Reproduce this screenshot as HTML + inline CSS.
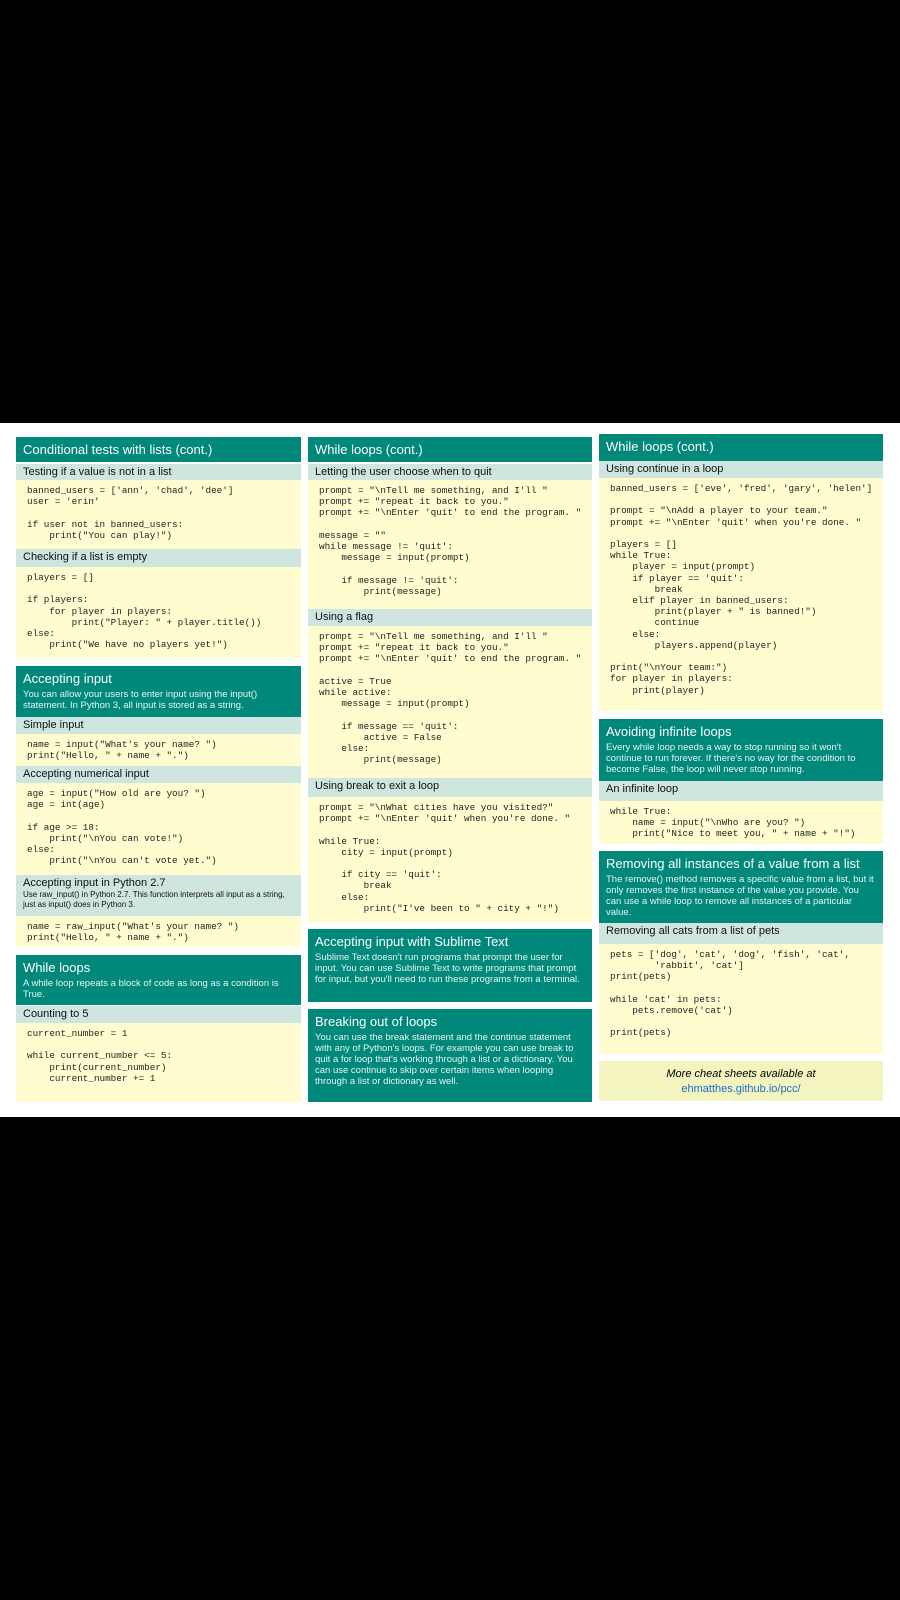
<!DOCTYPE html>
<html><head><meta charset="utf-8"><style>
body{margin:0;width:900px;height:1600px;background:#000;position:relative;overflow:hidden;font-family:"Liberation Sans",sans-serif}
.page{position:absolute;left:0;top:423px;width:900px;height:694px;background:#fff}
.b{position:absolute;box-sizing:border-box}
.t{background:#00897b;color:#fff;font-size:13px;padding:5px 7px 0}
.t p{margin:3px 0 0;font-size:9.5px;line-height:11px;color:#e6f4f1}
.s{background:#cfe5df;color:#111;font-size:11px;padding:2px 7px 0}
.s p{margin:1px 0 0;font-size:8px;line-height:9.5px}
.c{background:#fffdd0}
.c pre{margin:0;padding:5px 0 0 11px;font-family:"Liberation Mono",monospace;font-size:9.3px;line-height:11.2px;color:#222}
.f{background:#f4f4c0;text-align:center;font-size:11px;padding-top:6px;line-height:15px}
</style></head><body>
<div class="page"></div>
<!-- col1 -->
<div class="b t" style="left:16px;top:437px;width:285px;height:25px">Conditional tests with lists (cont.)</div>
<div class="b s" style="left:16px;top:464px;width:285px;height:16px">Testing if a value is not in a list</div>
<div class="b c" style="left:16px;top:480px;width:285px;height:69px"><pre>banned_users = ['ann', 'chad', 'dee']
user = 'erin'

if user not in banned_users:
    print("You can play!")</pre></div>
<div class="b s" style="left:16px;top:549px;width:285px;height:18px">Checking if a list is empty</div>
<div class="b c" style="left:16px;top:567px;width:285px;height:91px"><pre>players = []

if players:
    for player in players:
        print("Player: " + player.title())
else:
    print("We have no players yet!")</pre></div>
<div class="b t" style="left:16px;top:666px;width:285px;height:51px">Accepting input<p>You can allow your users to enter input using the input() statement. In Python 3, all input is stored as a string.</p></div>
<div class="b s" style="left:16px;top:717px;width:285px;height:17px">Simple input</div>
<div class="b c" style="left:16px;top:734px;width:285px;height:32px"><pre>name = input("What's your name? ")
print("Hello, " + name + ".")</pre></div>
<div class="b s" style="left:16px;top:766px;width:285px;height:17px">Accepting numerical input</div>
<div class="b c" style="left:16px;top:783px;width:285px;height:92px"><pre>age = input("How old are you? ")
age = int(age)

if age >= 18:
    print("\nYou can vote!")
else:
    print("\nYou can't vote yet.")</pre></div>
<div class="b s" style="left:16px;top:875px;width:285px;height:41px">Accepting input in Python 2.7<p>Use raw_input() in Python 2.7. This function interprets all input as a string, just as input() does in Python 3.</p></div>
<div class="b c" style="left:16px;top:916px;width:285px;height:31px"><pre>name = raw_input("What's your name? ")
print("Hello, " + name + ".")</pre></div>
<div class="b t" style="left:16px;top:955px;width:285px;height:50px">While loops<p>A while loop repeats a block of code as long as a condition is True.</p></div>
<div class="b s" style="left:16px;top:1006px;width:285px;height:17px">Counting to 5</div>
<div class="b c" style="left:16px;top:1023px;width:285px;height:79px"><pre>current_number = 1

while current_number &lt;= 5:
    print(current_number)
    current_number += 1</pre></div>
<!-- col2 -->
<div class="b t" style="left:308px;top:437px;width:284px;height:25px">While loops (cont.)</div>
<div class="b s" style="left:308px;top:464px;width:284px;height:16px">Letting the user choose when to quit</div>
<div class="b c" style="left:308px;top:480px;width:284px;height:129px"><pre>prompt = "\nTell me something, and I'll "
prompt += "repeat it back to you."
prompt += "\nEnter 'quit' to end the program. "

message = ""
while message != 'quit':
    message = input(prompt)

    if message != 'quit':
        print(message)</pre></div>
<div class="b s" style="left:308px;top:609px;width:284px;height:17px">Using a flag</div>
<div class="b c" style="left:308px;top:626px;width:284px;height:152px"><pre>prompt = "\nTell me something, and I'll "
prompt += "repeat it back to you."
prompt += "\nEnter 'quit' to end the program. "

active = True
while active:
    message = input(prompt)

    if message == 'quit':
        active = False
    else:
        print(message)</pre></div>
<div class="b s" style="left:308px;top:778px;width:284px;height:19px">Using break to exit a loop</div>
<div class="b c" style="left:308px;top:797px;width:284px;height:126px"><pre>prompt = "\nWhat cities have you visited?"
prompt += "\nEnter 'quit' when you're done. "

while True:
    city = input(prompt)

    if city == 'quit':
        break
    else:
        print("I've been to " + city + "!")</pre></div>
<div class="b t" style="left:308px;top:929px;width:284px;height:73px">Accepting input with Sublime Text<p>Sublime Text doesn't run programs that prompt the user for input. You can use Sublime Text to write programs that prompt for input, but you'll need to run these programs from a terminal.</p></div>
<div class="b t" style="left:308px;top:1009px;width:284px;height:93px">Breaking out of loops<p>You can use the break statement and the continue statement with any of Python's loops. For example you can use break to quit a for loop that's working through a list or a dictionary. You can use continue to skip over certain items when looping through a list or dictionary as well.</p></div>
<!-- col3 -->
<div class="b t" style="left:599px;top:434px;width:284px;height:27px">While loops (cont.)</div>
<div class="b s" style="left:599px;top:461px;width:284px;height:17px">Using continue in a loop</div>
<div class="b c" style="left:599px;top:478px;width:284px;height:233px"><pre>banned_users = ['eve', 'fred', 'gary', 'helen']

prompt = "\nAdd a player to your team."
prompt += "\nEnter 'quit' when you're done. "

players = []
while True:
    player = input(prompt)
    if player == 'quit':
        break
    elif player in banned_users:
        print(player + " is banned!")
        continue
    else:
        players.append(player)

print("\nYour team:")
for player in players:
    print(player)</pre></div>
<div class="b t" style="left:599px;top:719px;width:284px;height:62px">Avoiding infinite loops<p>Every while loop needs a way to stop running so it won't continue to run forever. If there's no way for the condition to become False, the loop will never stop running.</p></div>
<div class="b s" style="left:599px;top:781px;width:284px;height:20px">An infinite loop</div>
<div class="b c" style="left:599px;top:801px;width:284px;height:43px"><pre>while True:
    name = input("\nWho are you? ")
    print("Nice to meet you, " + name + "!")</pre></div>
<div class="b t" style="left:599px;top:851px;width:284px;height:72px">Removing all instances of a value from a list<p>The remove() method removes a specific value from a list, but it only removes the first instance of the value you provide. You can use a while loop to remove all instances of a particular value.</p></div>
<div class="b s" style="left:599px;top:923px;width:284px;height:21px">Removing all cats from a list of pets</div>
<div class="b c" style="left:599px;top:944px;width:284px;height:110px"><pre>pets = ['dog', 'cat', 'dog', 'fish', 'cat',
        'rabbit', 'cat']
print(pets)

while 'cat' in pets:
    pets.remove('cat')

print(pets)</pre></div>
<div class="b f" style="left:599px;top:1061px;width:284px;height:40px"><i>More cheat sheets available at</i><br><span style="color:#1a6fc4">ehmatthes.github.io/pcc/</span></div>
</body></html>
